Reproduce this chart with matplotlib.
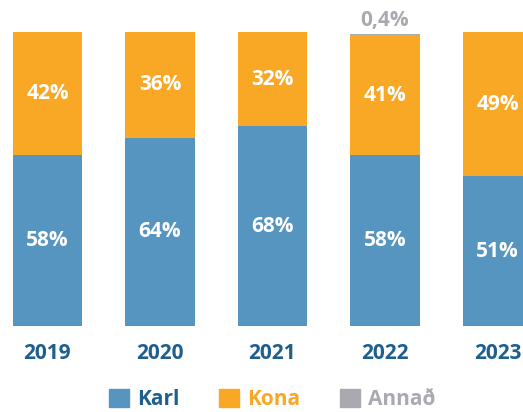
import matplotlib.pyplot as plt
from matplotlib.patches import Patch

years = ['2019', '2020', '2021', '2022', '2023']
karl = [58, 64, 68, 58, 51]
kona = [42, 36, 32, 41, 49]
annad = [0, 0, 0, 0.4, 0]

c_karl = '#5795c1'
c_kona = '#f9a825'
c_annad = '#a9a9b0'
c_year = '#1e5f8e'

plt.rcParams['font.family'] = ['Open Sans', 'DejaVu Sans']

fig = plt.figure(figsize=(5.23, 4.12), dpi=100)
ax = fig.add_axes([0, 86 / 412, 1, 294 / 412])
x = list(range(len(years)))
w = 0.615

ax.bar(x, karl, w, color=c_karl)
ax.bar(x, kona, w, bottom=karl, color=c_kona)
tops = [k + o for k, o in zip(karl, kona)]
ax.bar(x, annad, w, bottom=tops, color=c_annad)

for i in x:
    ax.text(i, karl[i] / 2, f'{karl[i]}%', ha='center', va='center',
            color='white', fontsize=15, fontweight='bold')
    ax.text(i, karl[i] + kona[i] / 2, f'{kona[i]}%', ha='center', va='center',
            color='white', fontsize=15, fontweight='bold')
    if annad[i] > 0:
        ax.text(i, tops[i] + annad[i] + 0.8, f'{annad[i]}%'.replace('.', ','),
                ha='center', va='bottom', color=c_annad, fontsize=15, fontweight='bold')

ax.set_xlim(-0.422, 4.227)
ax.set_ylim(0, 100)
ax.set_xticks(x)
ax.set_xticklabels(years, fontsize=15, fontweight='bold', color=c_year)
ax.tick_params(axis='x', length=0, pad=12)
ax.set_yticks([])
for s in ax.spines.values():
    s.set_visible(False)

handles = [Patch(color=c_karl), Patch(color=c_kona), Patch(color=c_annad)]
leg = fig.legend(handles, ['Karl', 'Kona', 'Annað'], loc='center',
                 bbox_to_anchor=(0.521, 0.03), ncol=3, frameon=False,
                 handlelength=0.95, handleheight=0.95, columnspacing=1.9,
                 handletextpad=0.4, prop={'size': 15, 'weight': 'bold'},
                 labelcolor=[c_year, c_kona, c_annad])

fig.savefig('out.png', dpi=100)
